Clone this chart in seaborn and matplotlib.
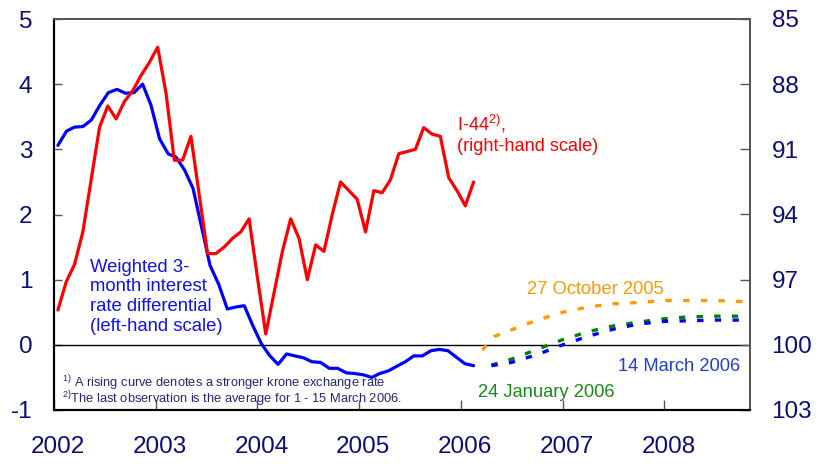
import numpy as np
import pandas as pd
import matplotlib
matplotlib.use("Agg")
import matplotlib.pyplot as plt
import matplotlib.dates as mdates
import matplotlib.transforms as mtransforms
import seaborn as sns

# ---------------- data ----------------
# Weighted 3-month interest rate differential (left-hand scale), monthly Jan 2002 - Feb 2006
diff_values = [3.06, 3.28, 3.34, 3.35, 3.45, 3.68, 3.87, 3.92, 3.86, 3.87,
               4.00, 3.68, 3.16, 2.93, 2.88, 2.68, 2.40, 1.80, 1.22, 0.93,
               0.55, 0.58, 0.60, 0.30, 0.02, -0.17, -0.30, -0.14, -0.17, -0.20,
               -0.26, -0.27, -0.36, -0.36, -0.43, -0.44, -0.46, -0.50, -0.44, -0.40,
               -0.33, -0.26, -0.17, -0.17, -0.09, -0.07, -0.09, -0.19, -0.29, -0.32]
diff_start = "2002-01-01"

# I-44 (right-hand scale, inverted), Jan 2002 - March 2006
i44_values = [98.4, 97.1, 96.3, 94.8, 92.4, 90.0, 89.0, 89.6, 88.8, 88.3,
              87.6, 87.0, 86.3, 88.4, 91.5, 91.5, 90.4, 93.1, 95.8, 95.8,
              95.5, 95.1, 94.8, 94.2, 96.9, 99.5, 97.6, 95.7, 94.2, 95.1,
              97.0, 95.4, 95.7, 94.0, 92.5, 92.9, 93.3, 94.8, 92.9, 93.0,
              92.4, 91.2, 91.1, 91.0, 90.0, 90.3, 90.4, 92.3, 92.9, 93.6, 92.5]

# Forward interest rate differentials
oct05_dates = ["2006-03-18", "2006-05-01", "2006-07-01", "2006-10-01", "2007-01-01", "2007-04-01",
               "2007-07-01", "2007-10-01", "2008-01-01", "2008-04-01", "2008-07-01", "2008-10-25"]
oct05_values = [-0.08, 0.13, 0.23, 0.38, 0.50, 0.58, 0.63, 0.65, 0.68, 0.68, 0.68, 0.66]

jan06_dates = ["2006-04-20", "2006-07-01", "2006-10-01", "2007-01-01", "2007-04-01", "2007-07-01",
               "2007-10-01", "2008-01-01", "2008-04-01", "2008-07-01", "2008-10-25"]
jan06_values = [-0.31, -0.22, -0.07, 0.08, 0.20, 0.29, 0.35, 0.40, 0.43, 0.44, 0.44]

mar06_dates = ["2006-04-20", "2006-07-01", "2006-10-01", "2007-01-01", "2007-04-01", "2007-07-01",
               "2007-10-01", "2008-01-01", "2008-04-01", "2008-07-01", "2008-10-25"]
mar06_values = [-0.32, -0.27, -0.15, 0.00, 0.13, 0.24, 0.32, 0.36, 0.37, 0.38, 0.38]

year_labels = ["2002", "2003", "2004", "2005", "2006", "2007", "2008"]
left_ticks = [-1, 0, 1, 2, 3, 4, 5]
right_ticks = [85, 88, 91, 94, 97, 100, 103]

# ---------------- style ----------------
sns.set_theme(style="white")
plt.rcParams["font.family"] = ["Liberation Sans", "DejaVu Sans"]
plt.rcParams["mathtext.fontset"] = "custom"
plt.rcParams["mathtext.rm"] = "Liberation Sans"
plt.rcParams["mathtext.it"] = "Liberation Sans:italic"
plt.rcParams["mathtext.bf"] = "Liberation Sans:bold"

NAVY = "#0c0c78"
BLUE = "#0000ff"
RED = "#ff0000"
ORANGE = "#ff9900"
GREEN = "#008000"

diff_dates = pd.date_range(diff_start, periods=len(diff_values), freq="MS") + pd.Timedelta(days=14)
i44_dates = pd.date_range(diff_dates[0], diff_dates[-1], periods=len(i44_values))

df_diff = pd.DataFrame({"date": diff_dates, "value": diff_values})
df_i44 = pd.DataFrame({"date": i44_dates, "value": i44_values})
df_oct = pd.DataFrame({"date": pd.to_datetime(oct05_dates), "value": oct05_values})
df_jan = pd.DataFrame({"date": pd.to_datetime(jan06_dates), "value": jan06_values})
df_mar = pd.DataFrame({"date": pd.to_datetime(mar06_dates), "value": mar06_values})

fig = plt.figure(figsize=(8.18, 4.66), dpi=100)
ax = fig.add_axes([54 / 818, 56 / 466, 696 / 818, 391 / 466])
ax2 = ax.twinx()

ax.axhline(0, color="black", lw=1.0, zorder=1)

dash = (0, (1.9, 3.4))
sns.lineplot(data=df_oct, x="date", y="value", ax=ax, color=ORANGE, lw=2.4, linestyle=dash)
sns.lineplot(data=df_jan, x="date", y="value", ax=ax, color=GREEN, lw=2.4, linestyle=dash)
sns.lineplot(data=df_mar, x="date", y="value", ax=ax, color=BLUE, lw=2.4, linestyle=dash)
sns.lineplot(data=df_diff, x="date", y="value", ax=ax, color=BLUE, lw=2.3)
sns.lineplot(data=df_i44, x="date", y="value", ax=ax2, color=RED, lw=2.3)

# axes limits / ticks
ax.set_xlim(pd.Timestamp("2002-01-01"), pd.Timestamp("2008-11-03"))
ax.set_ylim(-1, 5)
ax2.set_ylim(103, 85)

year_ticks = [pd.Timestamp(f"{y}-01-01") for y in year_labels]
ax.set_xticks(year_ticks)
ax.set_xticklabels(year_labels)
ax.set_yticks(left_ticks)
ax.set_yticklabels([str(v) for v in left_ticks])
ax2.set_yticks(right_ticks)
ax2.set_yticklabels([str(v) for v in right_ticks])

for a in (ax, ax2):
    a.set_xlabel("")
    a.set_ylabel("")
    a.grid(False)

ax.tick_params(axis="x", bottom=True, top=False, direction="in", length=7, width=1,
               color="#555555", labelsize=17.5, labelcolor=NAVY, pad=19)
ax.tick_params(axis="y", left=True, right=False, direction="in", length=6, width=1,
               color="#555555", labelsize=17.5, labelcolor=NAVY, pad=15.5)
ax2.tick_params(axis="y", left=False, right=True, direction="in", length=7, width=1,
                color="#555555", labelsize=17.5, labelcolor=NAVY, pad=15.5)

# year labels sit slightly right of their ticks in the reference
shift = mtransforms.ScaledTranslation(4 / 100, 0, fig.dpi_scale_trans)
for lbl in ax.get_xticklabels():
    lbl.set_transform(lbl.get_transform() + shift)

for a in (ax, ax2):
    for side in ("left", "bottom"):
        a.spines[side].set_color("black")
        a.spines[side].set_linewidth(1.5)
    for side in ("top", "right"):
        a.spines[side].set_color("#555555")
        a.spines[side].set_linewidth(1.3)

def d(s):
    return mdates.date2num(pd.Timestamp(s))

# annotations
ax.text(d("2002-05-11"), 1.32, "Weighted 3-\nmonth interest\nrate differential\n(left-hand scale)",
        color="#1010f0", fontsize=13.3, va="top", ha="left", linespacing=1.2)
ax.text(d("2005-12-19"), 3.29, r"I-44$^{\mathregular{2)}}$,", color=RED, fontsize=13.1,
        va="baseline", ha="left")
ax.text(d("2005-12-19"), 2.98, "(right-hand scale)", color=RED, fontsize=13.1,
        va="baseline", ha="left")
ax.text(d("2006-08-24"), 0.78, "27 October 2005", color=ORANGE, fontsize=13.2,
        va="baseline", ha="left")
ax.text(d("2008-09-27"), -0.40, "14 March 2006", color="#1f3fd8", fontsize=13.2,
        va="baseline", ha="right")
ax.text(d("2006-03-01"), -0.80, "24 January 2006", color="#1a8a1a", fontsize=13.2,
        va="baseline", ha="left")
ax.text(d("2002-01-30"), -0.892,
        r"$^{\mathregular{1)}}$ A rising curve denotes a stronger krone exchange rate" "\n"
        r"$^{\mathregular{2)}}$The last observation is the average for 1 - 15 March 2006.",
        color="#262673", fontsize=9.3, va="baseline", ha="left", linespacing=0.7)

fig.savefig("out.png", dpi=100, facecolor="white")
